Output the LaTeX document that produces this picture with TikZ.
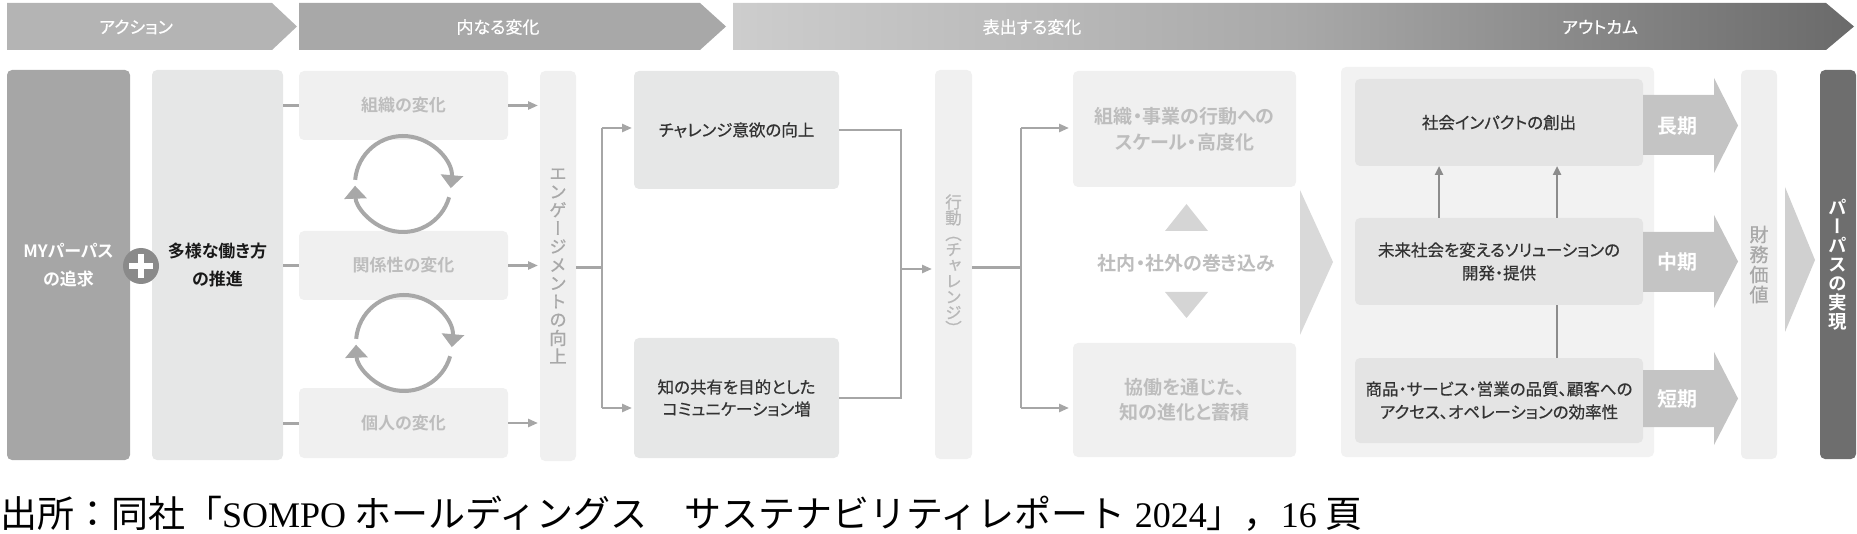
\documentclass[tikz,border=0pt]{standalone}
\usepackage{fontspec}
\setmainfont{Noto Sans CJK JP}[RawFeature=+palt,BoldFont={Noto Sans CJK JP Bold}]
\newfontfamily\medfont{Noto Sans CJK JP}[RawFeature=+palt,FakeBold=0.5]
\newfontfamily\vfont{Noto Sans CJK JP}[RawFeature=+vert,BoldFont={Noto Sans CJK JP Bold}]
\newfontfamily\vmedfont{Noto Sans CJK JP}[RawFeature=+vert,FakeBold=0.7]
\newfontfamily\capjp{Noto Sans CJK JP}
\newfontfamily\caplat{Liberation Serif}
\newcommand\tightlines{\lineskiplimit=-50pt\relax}
\usetikzlibrary{arrows.meta}
\definecolor{hdrA}{HTML}{B4B4B4}
\definecolor{hdrB}{HTML}{A8A8A8}
\definecolor{gA}{HTML}{CDCDCD}
\definecolor{gB}{HTML}{A9A9A9}
\definecolor{gC}{HTML}{6A6A6A}
\definecolor{myfill}{HTML}{A6A6A6}
\definecolor{plusfill}{HTML}{8A8A8A}
\definecolor{divfill}{HTML}{E6E7E7}
\definecolor{lightbox}{HTML}{F0F0F0}
\definecolor{lighttext}{HTML}{BDBDBD}
\definecolor{linegray}{HTML}{A6A6A6}
\definecolor{cycgray}{HTML}{A8A8A8}
\definecolor{midbox}{HTML}{E6E7E7}
\definecolor{darktext}{HTML}{333333}
\definecolor{vgray}{HTML}{A8A8A8}
\definecolor{actgray}{HTML}{B8B8B8}
\definecolor{trifill}{HTML}{D5D5D5}
\definecolor{chevfill}{HTML}{D9D9D9}
\definecolor{panelfill}{HTML}{F2F2F2}
\definecolor{innerbox}{HTML}{E4E4E4}
\definecolor{upgray}{HTML}{8C8C8C}
\definecolor{termfill}{HTML}{C4C4C4}
\definecolor{finfill}{HTML}{EFEFEF}
\definecolor{fingray}{HTML}{A8A8A8}
\definecolor{smallchev}{HTML}{D0D0D0}
\definecolor{purfill}{HTML}{6E6E6E}
\pgfdeclarehorizontalshading{hdrgrad}{100bp}{color(0bp)=(gA); color(25bp)=(gA); color(50bp)=(gB); color(75bp)=(gC); color(100bp)=(gC)}
\begin{document}
\begin{tikzpicture}[x=1pt,y=-1pt,
  every node/.style={inner sep=0pt,outer sep=0pt},
  hdrlabel/.style={text=white,font=\medfont\fontsize{17}{20}\selectfont},
  rbox/.style={rectangle,rounded corners=5pt,draw=none},
  grayhead/.style={text=lighttext,font=\bfseries\fontsize{17}{20}\selectfont},
  bigtext/.style={text=lighttext,font=\bfseries\fontsize{19}{26}\selectfont,align=center},
  dark/.style={text=darktext,font=\medfont\fontsize{16.5}{22}\selectfont,align=center},
  vtext/.style={align=center},
  line/.style={draw=linegray,line width=2pt},
  trunk/.style={draw=linegray,line width=3pt},
  arr/.style={draw=linegray,line width=2.5pt,-{Triangle[length=10pt,width=8pt]}},
  uparr/.style={draw=upgray,line width=2.5pt,-{Triangle[length=9pt,width=8pt]}},
  cyc/.style={draw=cycgray,line width=4pt,-{Triangle[length=13pt,width=22pt]}},
  term/.style={text=white,font=\bfseries\fontsize{20}{22}\selectfont}]
\useasboundingbox (0,0) rectangle (1857,534);

% ---- header band ----
\fill[hdrA] (7,3) -- (272,3) -- (297,26.5) -- (272,50) -- (7,50) -- cycle;
\fill[hdrB] (299,3) -- (700,3) -- (726,26.5) -- (700,50) -- (299,50) -- cycle;
\shade[shading=hdrgrad] (733,3) -- (1826,3) -- (1854,26.5) -- (1826,50) -- (733,50) -- cycle;
\node[hdrlabel] (h1) at (136,27) {アクション};
\node[hdrlabel] (h2) at (498,27) {内なる変化};
\node[hdrlabel] (h3) at (1032,27) {表出する変化};
\node[hdrlabel] (h4) at (1600,27) {アウトカム};

% ---- action column ----
\node[rbox,fill=myfill,minimum width=123pt,minimum height=390pt,text=white,
  font=\bfseries\fontsize{17}{28}\selectfont,align=center] (my) at (68.5,265) {MYパーパス\\の追求};
\node[rbox,fill=divfill,minimum width=131pt,minimum height=390pt,text=black!90,
  font=\bfseries\fontsize{17}{28}\selectfont,align=center] (div) at (217.5,265) {多様な働き方\\の推進};
\node[circle,fill=plusfill,minimum size=36pt] (plus) at (141,266) {};
\draw[white,line width=6pt] ([xshift=-12pt]plus.center) -- ([xshift=12pt]plus.center);
\draw[white,line width=6pt] ([yshift=-12pt]plus.center) -- ([yshift=12pt]plus.center);

% ---- inner change ----
\node[rbox,fill=lightbox,minimum width=209pt,minimum height=69pt,grayhead] (org) at (403.5,105.5) {組織の変化};
\node[rbox,fill=lightbox,minimum width=209pt,minimum height=69pt,grayhead] (rel) at (403.5,265.5) {関係性の変化};
\node[rbox,fill=lightbox,minimum width=209pt,minimum height=70pt,grayhead] (ind) at (403.5,423) {個人の変化};

\draw[trunk] (div.east |- org.west) -- (org.west);
\draw[trunk] (div.east |- rel.west) -- (rel.west);
\draw[trunk] (div.east |- ind.west) -- (ind.west);

% cycle arrows
\draw[cyc] (403,184) ++(185:48) arc[start angle=185,end angle=365,radius=48];
\draw[cyc] (403,184) ++(16:48) arc[start angle=16,end angle=178,radius=48];
\draw[cyc] (404,343) ++(185:48) arc[start angle=185,end angle=365,radius=48];
\draw[cyc] (404,343) ++(16:48) arc[start angle=16,end angle=178,radius=48];

\node[rbox,fill=lightbox,minimum width=36pt,minimum height=390pt,vtext,text=vgray,
  font=\vmedfont\fontsize{17.5}{18.3}\selectfont\tightlines] (eng) at (558,266) {エ\\ン\\ゲ\\ー\\ジ\\メ\\ン\\ト\\の\\向\\上};

\draw[arr,shorten >=2pt] (org.east) -- (eng.west |- org.east);
\draw[arr,shorten >=2pt] (rel.east) -- (eng.west |- rel.east);
\draw[arr,shorten >=2pt] (ind.east) -- (eng.west |- ind.east);

% ---- challenge / knowledge ----
\node[rbox,fill=midbox,minimum width=205pt,minimum height=118pt,dark] (chal) at (736.5,130) {チャレンジ意欲の向上};
\node[rbox,fill=midbox,minimum width=205pt,minimum height=120pt,dark] (know) at (736.5,398) {知の共有を目的とした\\コミュニケーション増};

\coordinate (j1) at (602,268);
\coordinate (j1t) at (602,128);
\coordinate (j1b) at (602,408);
\draw[trunk] (eng.east |- j1) -- (j1);
\draw[line] (j1t) -- (j1b);
\draw[arr,shorten >=2pt] (j1t) -- (j1t -| chal.west);
\draw[arr,shorten >=2pt] (j1b) -- (j1b -| know.west);

% ---- action (challenge) ----
\node[rbox,fill=lightbox,minimum width=37pt,minimum height=389pt,vtext,text=actgray,
  font=\vmedfont\fontsize{16.5}{15.8}\selectfont\tightlines] (act) at (953.5,264.5) {行\\動\\（\\チ\\ャ\\レ\\ン\\ジ\\）};

\coordinate (j2) at (901,269);
\draw[line] (chal.east) -| (j2);
\draw[line] (know.east) -| (j2);
\draw[arr,shorten >=3pt] (j2) -- (j2 -| act.west);

% ---- expressed change ----
\node[rbox,fill=lightbox,minimum width=223pt,minimum height=116pt,bigtext] (scale) at (1184.5,129) {組織・事業の行動への\\スケール・高度化};
\node[rbox,fill=lightbox,minimum width=223pt,minimum height=114pt,bigtext,font=\bfseries\fontsize{19}{25}\selectfont] (collab) at (1184.5,400) {協働を通じた、\\知の進化と蓄積};
\node[text=lighttext,font=\bfseries\fontsize{19}{22}\selectfont] (inv) at (1186.5,263) {社内・社外の巻き込み};
\fill[trifill] (1165,231) -- (1208,231) -- (1186.5,204) -- cycle;
\fill[trifill] (1165,292) -- (1208,292) -- (1186.5,318) -- cycle;

\coordinate (j3) at (1021,268);
\coordinate (j3t) at (1021,128);
\coordinate (j3b) at (1021,408);
\draw[trunk] (act.east |- j3) -- (j3);
\draw[line] (j3t) -- (j3b);
\draw[arr,shorten >=4pt] (j3t) -- (j3t -| scale.west);
\draw[arr,shorten >=4pt] (j3b) -- (j3b -| collab.west);

\fill[chevfill] (1300,190) -- (1333,262) -- (1300,335) -- cycle;

% ---- outcome ----
\node[rbox,fill=panelfill,minimum width=313pt,minimum height=390pt] (panel) at (1497.5,262) {};
\node[rbox,fill=innerbox,minimum width=288pt,minimum height=87pt,dark] (soc) at (1499,122.5) {社会インパクトの創出};
\node[rbox,fill=innerbox,minimum width=288pt,minimum height=87pt,dark,font=\medfont\fontsize{16.5}{23}\selectfont] (fut) at (1499,261.5) {未来社会を変えるソリューションの\\開発・提供};
\node[rbox,fill=innerbox,minimum width=288pt,minimum height=85pt,dark,font=\medfont\fontsize{16.5}{23}\selectfont] (prod) at (1499,400.5) {商品・サービス・営業の品質、顧客への\\アクセス、オペレーションの効率性};

\coordinate (ux1) at (1439,0);
\coordinate (ux2) at (1557,0);
\draw[uparr] (fut.north -| ux1) -- (soc.south -| ux1);
\draw[uparr] (fut.north -| ux2) -- (soc.south -| ux2);
\draw[draw=upgray,line width=2.5pt] (prod.north -| ux2) -- (fut.south -| ux2);

\fill[termfill] (1643,95) -- (1714,95) -- (1714,78) -- (1738,125.5) -- (1714,173) -- (1714,155) -- (1643,155) -- cycle;
\fill[termfill] (1643,232) -- (1714,232) -- (1714,215) -- (1738,261.5) -- (1714,308) -- (1714,292) -- (1643,292) -- cycle;
\fill[termfill] (1643,370) -- (1714,370) -- (1714,352) -- (1738,398.5) -- (1714,445) -- (1714,427) -- (1643,427) -- cycle;
\node[term] (tl) at (1677,126) {長期};
\node[term] (tm) at (1677,262) {中期};
\node[term] (ts) at (1677,399) {短期};

\node[rbox,fill=finfill,minimum width=36pt,minimum height=389pt,vtext,text=fingray,
  font=\vmedfont\fontsize{19}{20}\selectfont\tightlines] (fin) at (1759,264.5) {財\\務\\価\\値};
\fill[smallchev] (1785,187) -- (1815,260) -- (1785,332) -- cycle;
\node[rbox,fill=purfill,minimum width=36pt,minimum height=389pt,vtext,text=white,
  font=\vfont\bfseries\fontsize{18.5}{19}\selectfont\tightlines] (pur) at (1838,264.5) {パ\\ー\\パ\\ス\\の\\実\\現};

% ---- caption ----
\node[anchor=west,font=\fontsize{37}{40}\selectfont] (cap) at (0,514)
  {{\capjp 出所：同社「}{\caplat\fontsize{36}{40}\selectfont SOMPO}{\capjp\ ホールディングス　サステナビリティレポート}{\caplat\fontsize{36}{40}\selectfont\ 2024}{\capjp 」，}{\caplat\fontsize{36}{40}\selectfont 16\ }{\capjp 頁}};
\end{tikzpicture}
\end{document}
